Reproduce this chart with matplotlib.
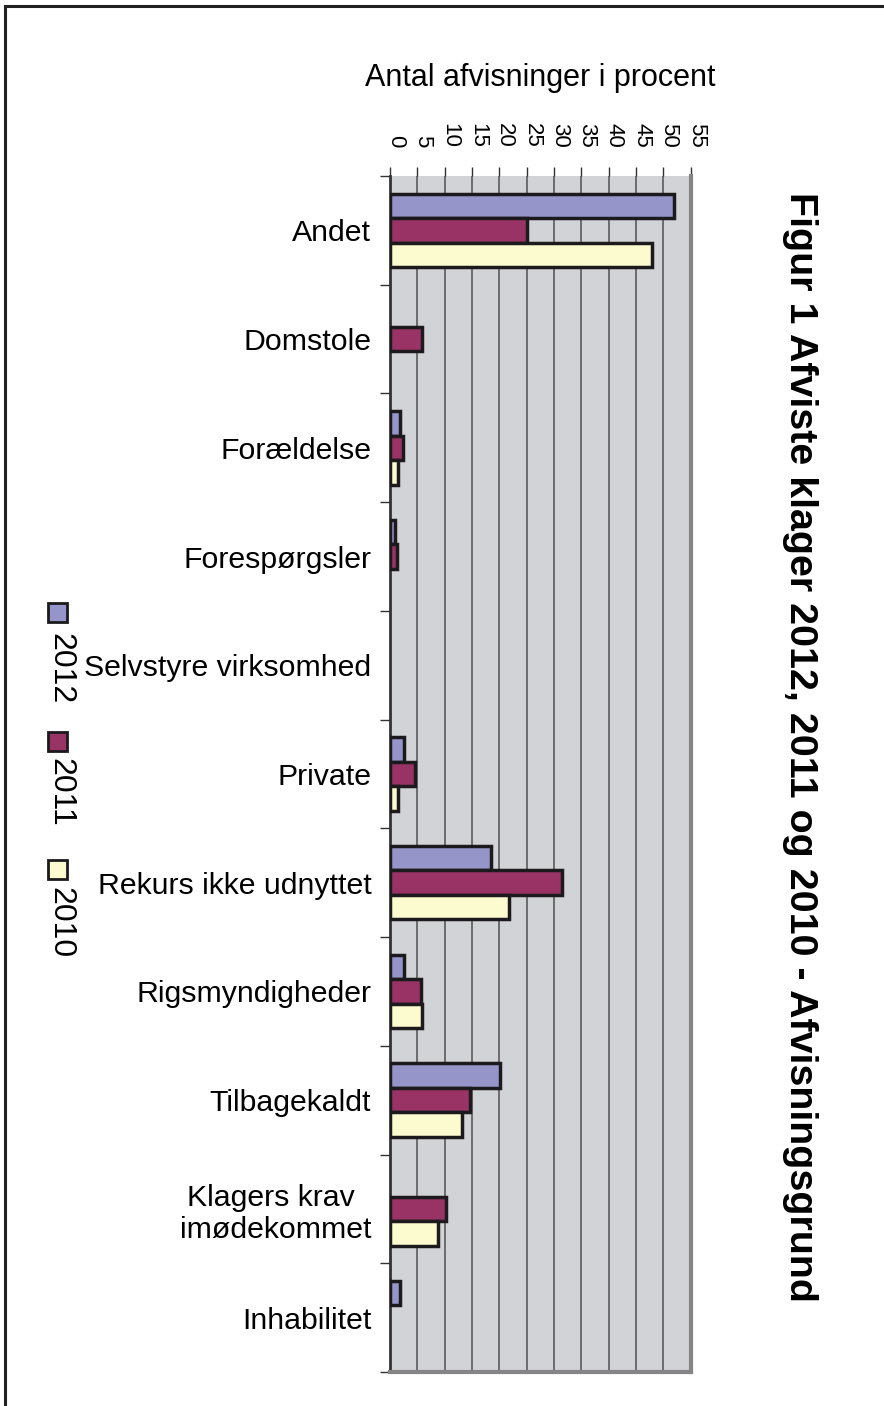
import numpy as np
import matplotlib
matplotlib.use('Agg')
import matplotlib.pyplot as plt
from matplotlib.patches import Rectangle
from matplotlib.lines import Line2D

plt.rcParams['font.family'] = ['Liberation Sans', 'DejaVu Sans']

# data (percent)
categories = ['Andet', 'Domstole', 'Forældelse', 'Forespørgsler', 'Selvstyre virksomhed',
              'Private', 'Rekurs ikke udnyttet', 'Rigsmyndigheder', 'Tilbagekaldt',
              'Klagers krav \nimødekommet', 'Inhabilitet']
years = ['2012', '2011', '2010']
v2012 = [52.0, 0, 1.8, 1.0, 0, 2.6, 18.5, 2.6, 20.2, 0, 1.8]
v2011 = [25.0, 5.8, 2.4, 1.3, 0, 4.6, 31.5, 5.6, 14.7, 10.2, 0]
v2010 = [48.0, 0, 1.5, 0, 0, 1.5, 21.8, 5.9, 13.1, 8.8, 0]
xticks = list(range(0, 56, 5))

colors = ['#9595C9', '#993366', '#FCFACF']
W, H = 884, 1406

fig = plt.figure(figsize=(W / 100, H / 100), dpi=100)
ax = fig.add_axes([390 / W, 1 - 1372 / H, (690.7 - 390) / W, (1372 - 176) / H])

y = np.arange(len(categories))
bar_h = 0.225
offsets = [-bar_h, 0, bar_h]
for vals, off, col in zip([v2012, v2011, v2010], offsets, colors):
    vals = np.array(vals, float)
    keep = vals > 0  # excel draws nothing for zero
    ax.barh(y[keep] + off, vals[keep], height=bar_h, color=col,
            edgecolor='#1c1a1c', linewidth=2.5, zorder=3)

ax.set_ylim(len(categories) - 0.5, -0.5)
ax.set_xlim(0, 55)
ax.set_facecolor('#D2D3D6')
ax.set_axisbelow(True)
ax.grid(axis='x', color='#505050', lw=1.1)

ax.spines['top'].set_visible(False)
ax.spines['left'].set_color('#333333')
ax.spines['left'].set_linewidth(2)
for s in ['bottom', 'right']:
    ax.spines[s].set_color('#858585')
    ax.spines[s].set_linewidth(3)

# value axis on top, labels turned
ax.xaxis.tick_top()
ax.set_xticks(xticks)
ax.tick_params(axis='x', direction='out', length=6.5, width=1, color='#333333',
               pad=14, labelsize=16, labelrotation=-90)
for lbl in ax.get_xticklabels():
    lbl.set_rotation_mode('anchor')
    lbl.set_ha('right')
    lbl.set_va('baseline')

# category axis: boundary ticks + centred labels
ax.set_yticks(np.arange(-0.5, len(categories), 1))
ax.set_yticklabels([])
ax.tick_params(axis='y', which='major', length=7, width=1, color='#333333')
ax.set_yticks(y, minor=True)
ax.set_yticklabels(categories, minor=True, fontsize=21.8)
ax.tick_params(axis='y', which='minor', length=0, pad=13.5)
for lbl in ax.get_yticklabels(minor=True):
    lbl.set_multialignment('center')

fig.text(540 / W, 1 - 78 / H, 'Antal afvisninger i procent', ha='center', va='center',
         fontsize=22)
fig.text(800 / W, 1 - 747 / H, 'Figur 1 Afviste klager 2012, 2011 og 2010 - Afvisningsgrund',
         rotation=-90, ha='center', va='center', fontsize=28.4, fontweight='bold')

# legend, turned like the rest of the chart
leg_sq = [603, 732, 860]
leg_txt = [633, 758, 887]
for lab, col, sq, tt in zip(years, colors, leg_sq, leg_txt):
    fig.patches.append(Rectangle((48 / W, 1 - (sq + 19) / H), 19 / W, 19 / H,
                                 transform=fig.transFigure, facecolor=col,
                                 edgecolor='#1c1a1c', lw=2))
    fig.text(60 / W, 1 - tt / H, lab, rotation=-90, ha='center', va='top', fontsize=23)

# page frame
fig.lines.append(Line2D([4.5 / W, 4.5 / W], [0, 1 - 6 / H], transform=fig.transFigure,
                        color='#222222', lw=2.2))
fig.lines.append(Line2D([4.5 / W, 1], [1 - 6 / H, 1 - 6 / H], transform=fig.transFigure,
                        color='#222222', lw=2.2))

fig.savefig('out.png', dpi=100)
